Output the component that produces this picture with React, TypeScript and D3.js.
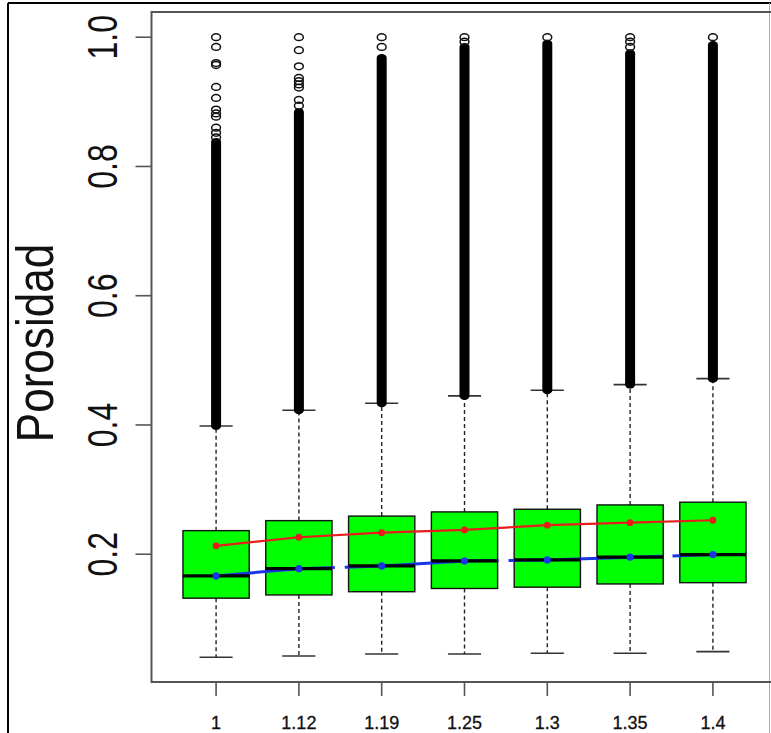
import React from "react";
import * as d3 from "d3";

// Group labels along the x axis
const categories = ["1", "1.12", "1.19", "1.25", "1.3", "1.35", "1.4"];

// Box statistics per group
const lowerQuartile = [0.132, 0.137, 0.142, 0.147, 0.149, 0.154, 0.156];
const upperQuartile = [0.2365, 0.252, 0.259, 0.2655, 0.2696, 0.2763, 0.2805];
const medians = [0.1664, 0.1777, 0.1819, 0.1896, 0.1912, 0.1954, 0.1994];
const whiskerLow = [0.0406, 0.0426, 0.0457, 0.0457, 0.0468, 0.0468, 0.0493];
const whiskerHigh = [0.3985, 0.4228, 0.4337, 0.445, 0.4538, 0.4625, 0.4717];

// Trend lines drawn across the groups
const means = [0.213, 0.2263, 0.2334, 0.2376, 0.2449, 0.2489, 0.2526];
const medianTrend = [0.1664, 0.1777, 0.1819, 0.1896, 0.1912, 0.1954, 0.1994];

// Outliers: the packed run of points above each whisker ends at this value
const denseOutlierTop = [0.838, 0.884, 0.968, 0.985, 0.99, 0.975, 0.988];
// Isolated outliers above the packed run
const outlierG1 = [1.0, 0.985, 0.96, 0.957, 0.923, 0.906, 0.888, 0.882, 0.877, 0.86, 0.852, 0.845];
const outlierG2 = [1.0, 0.98, 0.955, 0.937, 0.932, 0.927, 0.922, 0.903, 0.894];
const outlierG3 = [1.0, 0.985];
const outlierG4 = [1.0, 0.993];
const outlierG5 = [1.0];
const outlierG6 = [1.0, 0.993, 0.985];
const outlierG7 = [1.0];
const outliers = [outlierG1, outlierG2, outlierG3, outlierG4, outlierG5, outlierG6, outlierG7];

const yTicks = [0.2, 0.4, 0.6, 0.8, 1.0];

const W = 771;
const H = 733;

export default function App() {
  const x = d3.scaleLinear().domain([0.22, 7.78]).range([151.5, 777.5]);
  const y = d3.scaleLinear().domain([0.0023, 1.039]).range([682, 12]);
  const unit = x(2) - x(1);
  const boxHalf = unit * 0.4;
  const capHalf = unit * 0.2;
  const plotLeft = x(0.22);
  const plotRight = x(7.78);
  const plotTop = y(1.039);
  const plotBottom = y(0.0023);

  const line = d3
    .line<number>()
    .x((_, i) => x(i + 1))
    .y((v) => y(v));

  const font = "'Liberation Sans', Arial, sans-serif";
  const rx = 5;
  const ry = 4;

  return (
    <svg
      width={W}
      height={H}
      viewBox={`0 0 ${W} ${H}`}
      style={{ position: "absolute", left: 0, top: 0, display: "block", background: "#fff" }}
    >
      <rect x={0} y={0} width={W} height={H} fill="#fff" />
      {/* outer frame */}
      <line x1={8} x2={W} y1={3} y2={3} stroke="#000" strokeWidth={2} />
      <line x1={8} x2={8} y1={3} y2={H} stroke="#000" strokeWidth={2} />
      <line x1={769.5} x2={769.5} y1={3} y2={H} stroke="#aaa" strokeWidth={1} />

      {/* plot box */}
      <rect
        x={plotLeft}
        y={plotTop}
        width={plotRight - plotLeft}
        height={plotBottom - plotTop}
        fill="none"
        stroke="#555"
        strokeWidth={2}
      />

      {/* y axis */}
      {yTicks.map((t) => (
        <g key={"yt" + t}>
          <line x1={plotLeft - 16} x2={plotLeft} y1={y(t)} y2={y(t)} stroke="#555" strokeWidth={1.6} />
          <text
            transform={`translate(117,${y(t)}) rotate(-90) scale(1,1.35)`}
            textAnchor="middle"
            fontFamily={font}
            fontSize={32}
            fill="#111"
          >
            {t.toFixed(1)}
          </text>
        </g>
      ))}
      <text
        transform={`translate(53,343) rotate(-90) scale(1.13,1.35)`}
        textAnchor="middle"
        fontFamily={font}
        fontSize={39}
        fill="#111"
      >
        Porosidad
      </text>

      {/* x axis */}
      {categories.map((c, i) => (
        <g key={"xt" + c}>
          <line x1={x(i + 1)} x2={x(i + 1)} y1={plotBottom} y2={plotBottom + 14} stroke="#555" strokeWidth={1.6} />
          <text x={x(i + 1)} y={729} textAnchor="middle" fontFamily={font} fontSize={18} fill="#111" stroke="#111" strokeWidth={0.3}>
            {c}
          </text>
        </g>
      ))}

      {/* whiskers and caps */}
      {categories.map((c, i) => {
        const cx = x(i + 1);
        return (
          <g key={"wh" + c}>
            <line x1={cx} x2={cx} y1={y(upperQuartile[i])} y2={y(whiskerHigh[i])} stroke="#222" strokeWidth={1.4} strokeDasharray="4 3" />
            <line x1={cx} x2={cx} y1={y(lowerQuartile[i])} y2={y(whiskerLow[i])} stroke="#222" strokeWidth={1.4} strokeDasharray="4 3" />
            <line x1={cx - capHalf} x2={cx + capHalf} y1={y(whiskerHigh[i])} y2={y(whiskerHigh[i])} stroke="#333" strokeWidth={1.6} />
            <line x1={cx - capHalf} x2={cx + capHalf} y1={y(whiskerLow[i])} y2={y(whiskerLow[i])} stroke="#333" strokeWidth={1.6} />
          </g>
        );
      })}

      {/* outliers */}
      {categories.map((c, i) => {
        const cx = x(i + 1);
        const top = y(denseOutlierTop[i]) - ry;
        const bottom = y(whiskerHigh[i]) + ry;
        return (
          <g key={"out" + c}>
            <rect x={cx - rx} y={top} width={rx * 2} height={bottom - top} rx={rx} ry={ry} fill="#000" />
            {outliers[i].map((v, j) => (
              <ellipse key={j} cx={cx} cy={y(v)} rx={rx - 0.6} ry={ry - 0.6} fill="none" stroke="#111" strokeWidth={1.5} />
            ))}
          </g>
        );
      })}

      {/* boxes */}
      {categories.map((c, i) => {
        const cx = x(i + 1);
        return (
          <rect
            key={"box" + c}
            x={cx - boxHalf}
            y={y(upperQuartile[i])}
            width={boxHalf * 2}
            height={y(lowerQuartile[i]) - y(upperQuartile[i])}
            fill="#00ff00"
            stroke="#111"
            strokeWidth={1.4}
          />
        );
      })}

      {/* median trend */}
      <path
        d={line(medianTrend) ?? ""}
        fill="none"
        stroke="#1a35e6"
        strokeWidth={3}
        strokeDasharray="154 10"
        strokeDashoffset={35}
      />
      {categories.map((c, i) => {
        const cx = x(i + 1);
        return (
          <line key={"med" + c} x1={cx - boxHalf} x2={cx + boxHalf} y1={y(medians[i])} y2={y(medians[i])} stroke="#000" strokeWidth={3.2} />
        );
      })}
      {medianTrend.map((v, i) => (
        <circle key={"bp" + i} cx={x(i + 1)} cy={y(v)} r={3.6} fill="#1a35e6" />
      ))}

      {/* mean trend */}
      <path d={line(means) ?? ""} fill="none" stroke="#e81c1c" strokeWidth={2.2} />
      {means.map((v, i) => (
        <circle key={"rp" + i} cx={x(i + 1)} cy={y(v)} r={3.4} fill="#e81c1c" />
      ))}
    </svg>
  );
}
